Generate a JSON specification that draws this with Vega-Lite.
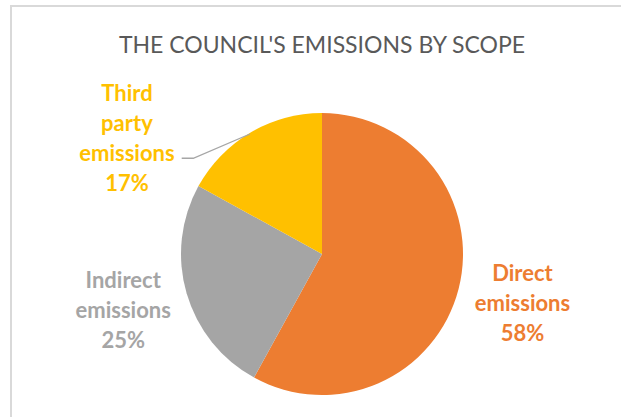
{
  "$schema": "https://vega.github.io/schema/vega-lite/v6.json",
  "width": 622,
  "height": 496,
  "autosize": {"type": "none"},
  "padding": {"left": 11, "top": 6, "right": 0, "bottom": 0},
  "background": "white",
  "config": {"view": {"stroke": "#d9d9d9", "strokeWidth": 2}},
  "title": {
    "text": "THE COUNCIL'S EMISSIONS BY SCOPE",
    "font": "Lato",
    "fontSize": 23,
    "fontWeight": "normal",
    "color": "#595959",
    "anchor": "middle",
    "offset": -52
  },
  "datasets": {
    "scopes": [
      {"category": "Direct emissions", "value": 58},
      {"category": "Indirect emissions", "value": 25},
      {"category": "Third party emissions", "value": 17}
    ],
    "leader": [
      {"px": -0.995, "py": 0.679, "o": 1},
      {"px": -0.913, "py": 0.679, "o": 2},
      {"px": -0.511, "py": 0.851, "o": 3}
    ]
  },
  "layer": [
    {
      "data": {"name": "scopes"},
      "mark": {"type": "arc", "radius": 141, "stroke": null},
      "encoding": {
        "theta": {"field": "value", "type": "quantitative", "stack": true},
        "order": {"field": "value", "type": "quantitative", "sort": "descending"},
        "color": {
          "field": "category",
          "type": "nominal",
          "scale": {"domain": ["Direct emissions", "Indirect emissions", "Third party emissions"], "range": ["#ED7D31", "#A5A5A5", "#FFC000"]},
          "legend": null
        }
      }
    },
    {
      "data": {"name": "scopes"},
      "transform": [{"calculate": "datum.category + ' ' + datum.value + '%'", "as": "label"}],
      "mark": {"type": "text", "radius": 207, "dy": -31, "font": "Lato", "fontWeight": "bold", "fontSize": 22, "lineBreak": " ", "lineHeight": 30, "align": "center", "baseline": "middle"},
      "encoding": {
        "theta": {"field": "value", "type": "quantitative", "stack": true},
        "order": {"field": "value", "type": "quantitative", "sort": "descending"},
        "color": {"field": "category", "type": "nominal", "legend": null},
        "text": {"condition": {"test": "datum.category !== 'Third party emissions'", "field": "label"}, "value": ""}
      }
    },
    {
      "data": {"name": "scopes"},
      "transform": [{"calculate": "datum.category + ' ' + datum.value + '%'", "as": "label"}],
      "mark": {"type": "text", "radius": 228, "dx": -79, "dy": 36, "font": "Lato", "fontWeight": "bold", "fontSize": 22, "lineBreak": " ", "lineHeight": 30, "align": "center", "baseline": "middle"},
      "encoding": {
        "theta": {"field": "value", "type": "quantitative", "stack": true},
        "order": {"field": "value", "type": "quantitative", "sort": "descending"},
        "color": {"field": "category", "type": "nominal", "legend": null},
        "text": {"condition": {"test": "datum.category === 'Third party emissions'", "field": "label"}, "value": ""}
      }
    },
    {
      "data": {"name": "leader"},
      "mark": {"type": "line", "color": "#a6a6a6", "strokeWidth": 1.3},
      "encoding": {
        "x": {"field": "px", "type": "quantitative", "scale": {"domain": [-2.2057, 2.2057], "nice": false, "zero": false}, "axis": null},
        "y": {"field": "py", "type": "quantitative", "scale": {"domain": [-1.7589, 1.7589], "nice": false, "zero": false}, "axis": null},
        "order": {"field": "o", "type": "quantitative"}
      }
    }
  ]
}
